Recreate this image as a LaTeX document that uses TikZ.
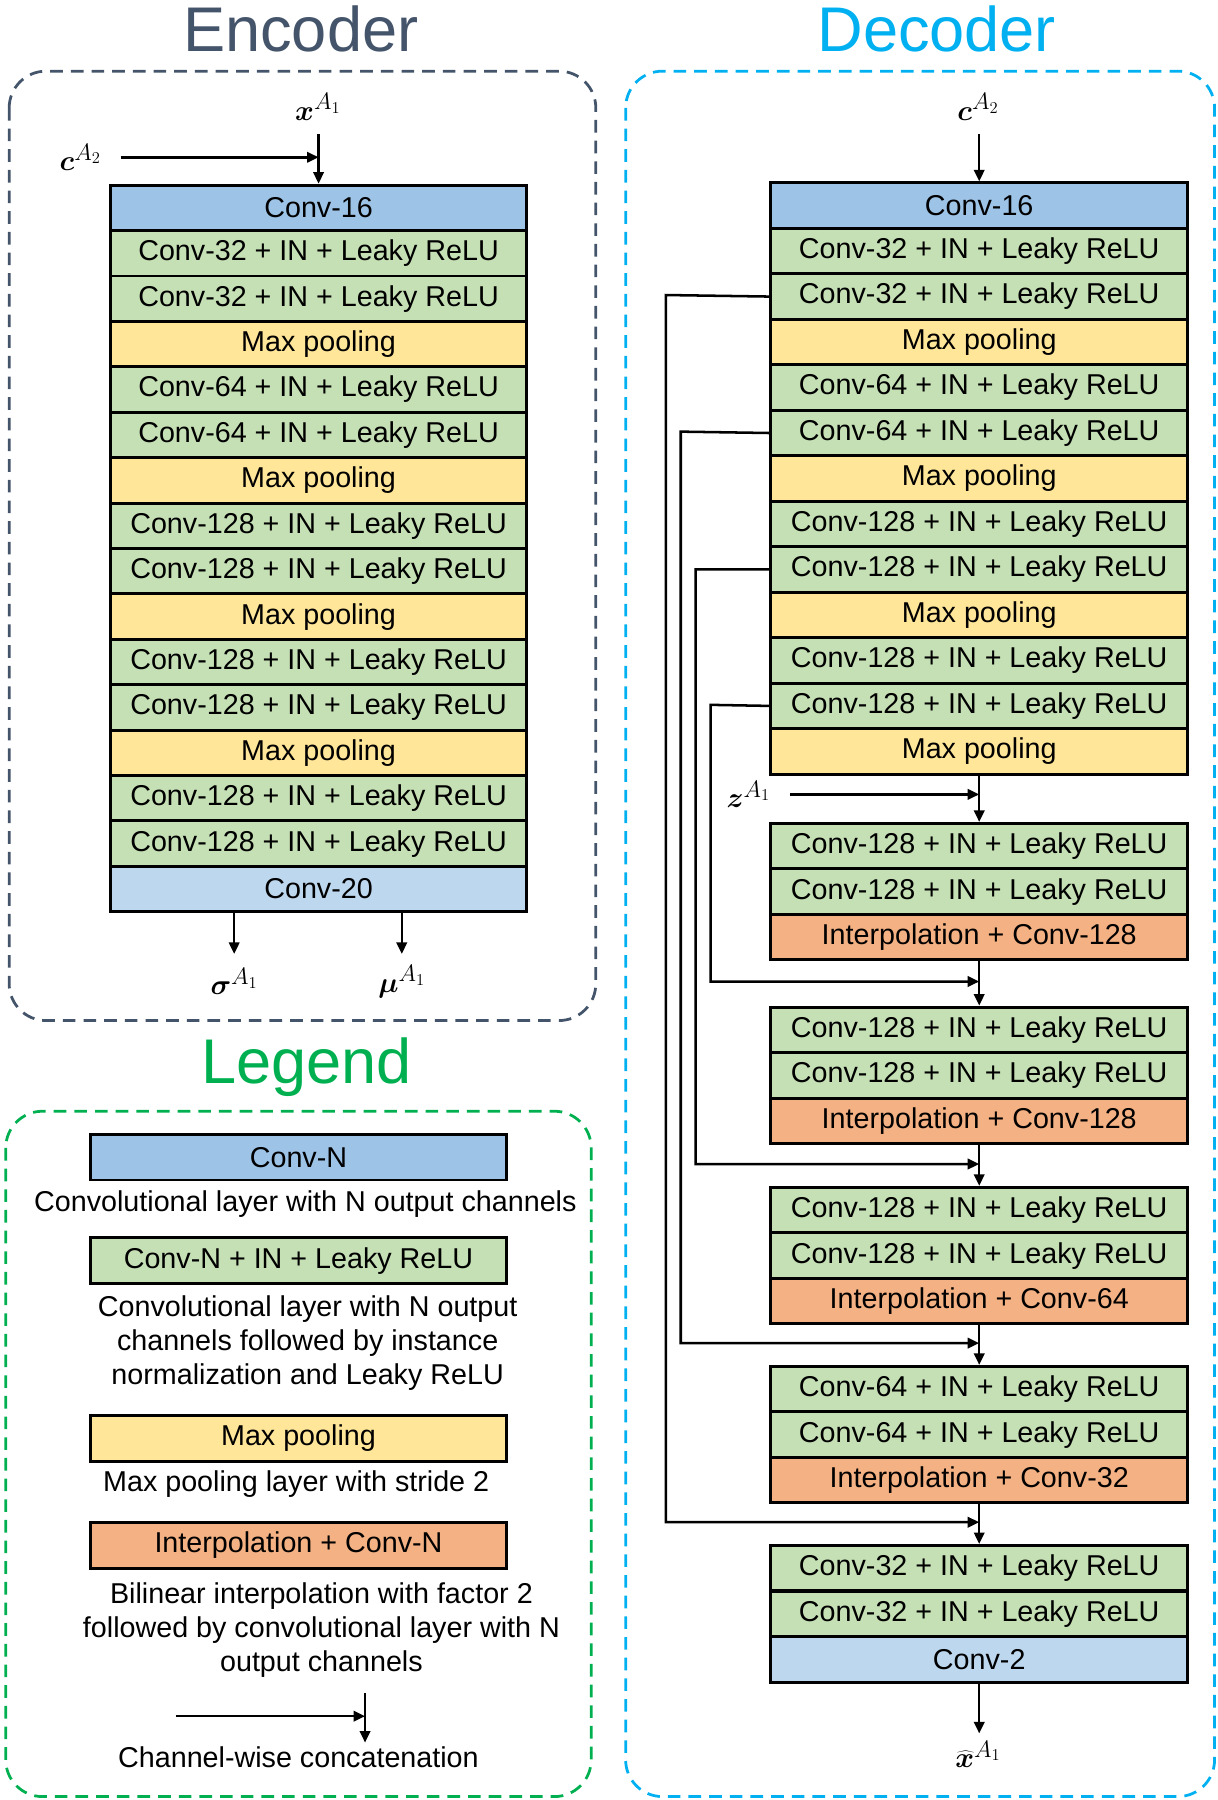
\documentclass[tikz,border=0pt]{standalone}
\usepackage{fontspec}
\setmainfont{Liberation Sans}
\usepackage{bm}
\usetikzlibrary{arrows.meta,calc}
\definecolor{cb}{HTML}{9DC3E6}
\definecolor{clb}{HTML}{BDD7EE}
\definecolor{cg}{HTML}{C5E0B4}
\definecolor{cy}{HTML}{FFE699}
\definecolor{co}{HTML}{F4B183}
\definecolor{encc}{HTML}{44546A}
\definecolor{decc}{HTML}{00B0F0}
\definecolor{legc}{HTML}{00B050}
\tikzset{
  layer/.style={draw=black, line width=2.6pt, minimum width=363pt, minimum height=39.6pt, inner sep=0pt, anchor=north, font=\fontsize{25}{30}\selectfont, text=black},
  arr/.style={line width=2.2pt, -{Triangle[length=10pt,width=9pt]}},
  frame/.style={line width=2.4pt, dash pattern=on 11pt off 7pt, rounded corners=32pt},
  title/.style={font=\fontsize{55}{60}\selectfont},
  lbl/.style={font=\fontsize{31}{34}\selectfont, inner sep=2pt},
  desc/.style={font=\fontsize{25}{30}\selectfont, align=center, inner sep=0pt}
}
\begin{document}
\begin{tikzpicture}[x=1pt,y=-1pt]
\useasboundingbox (0,0) rectangle (1061,1568);
% titles
\node[title, text=encc] (tenc) at (262,25) {Encoder};
\node[title, text=decc] (tdec) at (816,25) {Decoder};
\node[title, text=legc] (tleg) at (267,930) {Legend};
% frames
\draw[frame, draw=encc] (8,62) rectangle (519,889);
\draw[frame, draw=decc] (545,62) rectangle (1058,1565);
\draw[frame, draw=legc] (5,968) rectangle (515,1565);

% ---------------- Encoder ----------------
\foreach \lab/\col [count=\i] in {Conv-16/cb, Conv-32 + IN + Leaky ReLU/cg, Conv-32 + IN + Leaky ReLU/cg, Max pooling/cy, Conv-64 + IN + Leaky ReLU/cg, Conv-64 + IN + Leaky ReLU/cg, Max pooling/cy, Conv-128 + IN + Leaky ReLU/cg, Conv-128 + IN + Leaky ReLU/cg, Max pooling/cy, Conv-128 + IN + Leaky ReLU/cg, Conv-128 + IN + Leaky ReLU/cg, Max pooling/cy, Conv-128 + IN + Leaky ReLU/cg, Conv-128 + IN + Leaky ReLU/cg, Conv-20/clb}
  \node[layer, fill=\col] (e\i) at (277.5,{160+(\i-1)*39.56}) {\lab};

\node[lbl] (xA) at (277,93) {$\bm{x}^{A_1}$};
\node[lbl] (cA) at (70,137) {$\bm{c}^{A_2}$};
\coordinate (cj) at (277.5,137);
\draw[arr] (277.5,117) coordinate (xs) -- (e1.north);
\draw[arr] (105,137) coordinate (cs) -- (cj);
\node[lbl] (sig) at (204,855) {$\bm{\sigma}^{A_1}$};
\node[lbl] (mu) at (350,855) {$\bm{\mu}^{A_1}$};
\draw[arr] (e16.south -| sig) -- (204,831) coordinate (sige);
\draw[arr] (e16.south -| mu) -- (350,831) coordinate (mue);

% ---------------- Decoder ----------------
\foreach \lab/\col [count=\i] in {Conv-16/cb, Conv-32 + IN + Leaky ReLU/cg, Conv-32 + IN + Leaky ReLU/cg, Max pooling/cy, Conv-64 + IN + Leaky ReLU/cg, Conv-64 + IN + Leaky ReLU/cg, Max pooling/cy, Conv-128 + IN + Leaky ReLU/cg, Conv-128 + IN + Leaky ReLU/cg, Max pooling/cy, Conv-128 + IN + Leaky ReLU/cg, Conv-128 + IN + Leaky ReLU/cg, Max pooling/cy}
  \node[layer, fill=\col] (d\i) at (853,{158+(\i-1)*39.62}) {\lab};

\foreach \lab/\col [count=\i] in {Conv-128 + IN + Leaky ReLU/cg, Conv-128 + IN + Leaky ReLU/cg, Interpolation + Conv-128/co}
  \node[layer, fill=\col] (ba\i) at (853,{716+(\i-1)*39.67}) {\lab};
\foreach \lab/\col [count=\i] in {Conv-128 + IN + Leaky ReLU/cg, Conv-128 + IN + Leaky ReLU/cg, Interpolation + Conv-128/co}
  \node[layer, fill=\col] (bb\i) at (853,{876+(\i-1)*39.67}) {\lab};
\foreach \lab/\col [count=\i] in {Conv-128 + IN + Leaky ReLU/cg, Conv-128 + IN + Leaky ReLU/cg, Interpolation + Conv-64/co}
  \node[layer, fill=\col] (bc\i) at (853,{1033+(\i-1)*39.67}) {\lab};
\foreach \lab/\col [count=\i] in {Conv-64 + IN + Leaky ReLU/cg, Conv-64 + IN + Leaky ReLU/cg, Interpolation + Conv-32/co}
  \node[layer, fill=\col] (bd\i) at (853,{1189+(\i-1)*39.67}) {\lab};
\foreach \lab/\col [count=\i] in {Conv-32 + IN + Leaky ReLU/cg, Conv-32 + IN + Leaky ReLU/cg, Conv-2/clb}
  \node[layer, fill=\col] (be\i) at (853,{1345+(\i-1)*39.67}) {\lab};

\node[lbl] (cB) at (852,93) {$\bm{c}^{A_2}$};
\draw[arr] (853,117) coordinate (cbs) -- (d1.north);
\node[lbl] (zA) at (652,692) {$\bm{z}^{A_1}$};
\coordinate (zj) at (853,692);
\draw[arr] (688,692) coordinate (zs) -- (zj);
\draw[arr] (d13.south) -- (ba1.north);
\draw[arr] (ba3.south) -- (bb1.north);
\draw[arr] (bb3.south) -- (bc1.north);
\draw[arr] (bc3.south) -- (bd1.north);
\draw[arr] (bd3.south) -- (be1.north);
\node[lbl] (xh) at (852,1528) {$\widehat{\bm{x}}^{A_1}$};
\draw[arr] (be3.south) -- (853,1510) coordinate (xhe);

% skip connections
\coordinate (k1) at (853,855);
\coordinate (k2) at (853,1014);
\coordinate (k3) at (853,1170);
\coordinate (k4) at (853,1326);
\draw[arr] (d12.west) -- (619,614) |- (k1);
\draw[arr] (d9.west) -- (606,496) |- (k2);
\draw[arr] (d6.west) -- (593,376) |- (k3);
\draw[arr] (d3.west) -- (580,257) |- (k4);

% ---------------- Legend ----------------
\node[layer, fill=cb] (l1) at (260,987) {Conv-N};
\node[desc] (t1) at (266,1049) {Convolutional layer with N output channels};
\node[layer, fill=cg] (l2) at (260,1077) {Conv-N + IN + Leaky ReLU};
\node[desc] (t2) at (268,1170) {Convolutional layer with N output\\channels followed by instance\\normalization and Leaky ReLU};
\node[layer, fill=cy] (l3) at (260,1232) {Max pooling};
\node[desc] (t3) at (258,1293) {Max pooling layer with stride 2};
\node[layer, fill=co] (l4) at (260,1325) {Interpolation + Conv-N};
\node[desc] (t4) at (280,1420) {Bilinear interpolation with factor 2\\followed by convolutional layer with N\\output channels};
\coordinate (la) at (153,1495);
\coordinate (lb) at (318,1495);
\coordinate (lt) at (318,1475);
\coordinate (lbt) at (318,1518);
\draw[arr] (la) -- (lb);
\draw[arr] (lt) -- (lbt);
\node[desc] (t5) at (260,1531) {Channel-wise concatenation};
\end{tikzpicture}
\end{document}
